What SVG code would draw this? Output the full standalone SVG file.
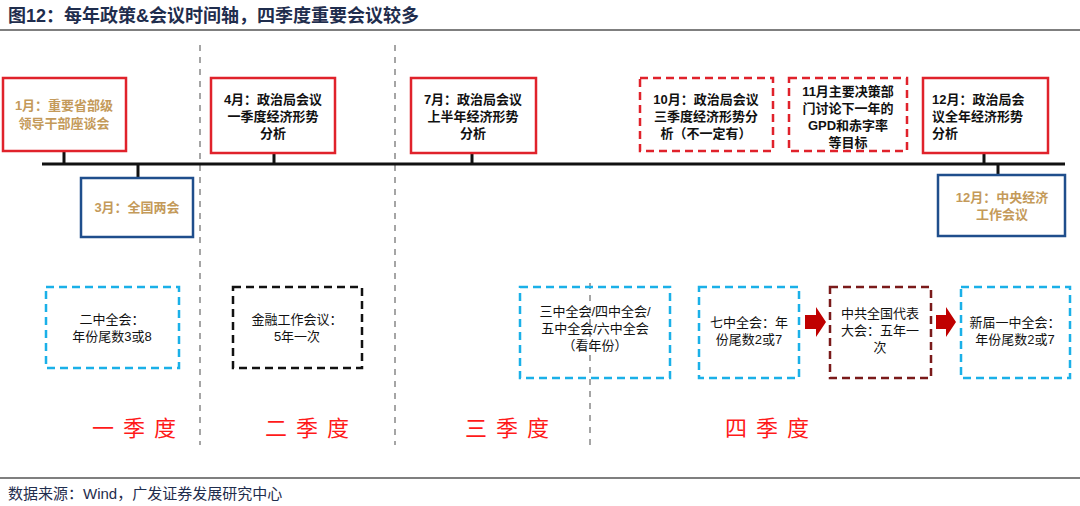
<svg xmlns="http://www.w3.org/2000/svg" width="1080" height="506" viewBox="0 0 1080 506">
<style>
text{font-family:"Liberation Sans","Noto Sans CJK SC",sans-serif;font-size:13px;font-weight:bold;fill:#111}
.g{fill:#c49a5a}
.r{fill:none;stroke:#e0222b;stroke-width:2.5}
.rd{fill:none;stroke:#e0222b;stroke-width:2.5;stroke-dasharray:8,5}
.b{fill:none;stroke:#1f4e8c;stroke-width:2.5}
.c{fill:none;stroke:#1ab0e8;stroke-width:2.5;stroke-dasharray:8,5}
.k{fill:none;stroke:#111;stroke-width:2.5;stroke-dasharray:8,5}
.m{fill:none;stroke:#7a1a1a;stroke-width:2.5;stroke-dasharray:8,5}
.q{font-family:"Noto Sans CJK SC",serif;font-weight:normal;font-size:22px;fill:#ff1a1a;letter-spacing:9px}
.sep{stroke:#888;stroke-width:1.5;stroke-dasharray:6,6}
</style>
<rect width="1080" height="506" fill="#fff"/>
<text x="8" y="22" style="font-size:18px;fill:#1f2d4d">图12：每年政策&amp;会议时间轴，四季度重要会议较多</text>
<line x1="0" y1="30" x2="1080" y2="30" stroke="#555" stroke-width="1.5"/>
<line x1="0" y1="478" x2="1080" y2="478" stroke="#555" stroke-width="1.5"/>
<text x="8" y="499" style="font-weight:normal;font-size:15px;fill:#1f2d4d">数据来源：Wind，广发证券发展研究中心</text>
<g id="separators">
<line class="sep" x1="200" y1="45" x2="200" y2="445"/>
<line class="sep" x1="395" y1="45" x2="395" y2="445"/>
<line class="sep" x1="590" y1="283" x2="590" y2="445"/>
</g>
<g id="connectors" stroke="#111" stroke-width="3">
<line x1="42" y1="164" x2="1065" y2="164"/>
<line x1="64" y1="151" x2="64" y2="164"/>
<line x1="138" y1="164" x2="138" y2="178"/>
<line x1="274" y1="153" x2="274" y2="164"/>
<line x1="472" y1="153" x2="472" y2="164"/>
<line x1="984" y1="153" x2="984" y2="164"/>
<line x1="998" y1="164" x2="998" y2="175"/>
<path d="M805 315h11v-8l10 15-10 15v-8h-11z" fill="#c00000" stroke="none"/>
<path d="M936 315h10v-8l10 15-10 15v-8h-10z" fill="#c00000" stroke="none"/>
</g>
<g id="n1"><rect class="r" x="3" y="78" width="123" height="73"/><text class="g" x="64" y="110" text-anchor="middle">1月：重要省部级</text><text class="g" x="64" y="128" text-anchor="middle">领导干部座谈会</text></g>
<g id="n3"><rect class="b" x="81" y="178" width="112" height="59"/><text class="g" x="137" y="212" text-anchor="middle">3月：全国两会</text></g>
<g id="n4"><rect class="r" x="211" y="78" width="124" height="75"/><text x="273" y="104" text-anchor="middle">4月：政治局会议</text><text x="273" y="121" text-anchor="middle">一季度经济形势</text><text x="273" y="138" text-anchor="middle">分析</text></g>
<g id="n7"><rect class="r" x="411" y="78" width="125" height="75"/><text x="473" y="104" text-anchor="middle">7月：政治局会议</text><text x="473" y="121" text-anchor="middle">上半年经济形势</text><text x="473" y="138" text-anchor="middle">分析</text></g>
<g id="n10"><rect class="rd" x="640" y="78" width="133" height="73"/><text x="706" y="104" text-anchor="middle">10月：政治局会议</text><text x="706" y="121" text-anchor="middle">三季度经济形势分</text><text x="706" y="138" text-anchor="middle">析（不一定有）</text></g>
<g id="n11"><rect class="rd" x="789" y="78" width="118" height="73"/><text x="848" y="96" text-anchor="middle">11月主要决策部</text><text x="848" y="113" text-anchor="middle">门讨论下一年的</text><text x="848" y="130" text-anchor="middle">GPD和赤字率</text><text x="848" y="147" text-anchor="middle">等目标</text></g>
<g id="n12a"><rect class="r" x="923" y="78" width="125" height="75"/><text x="932" y="104">12月：政治局会</text><text x="932" y="121">议全年经济形势</text><text x="932" y="138">分析</text></g>
<g id="n12b"><rect class="b" x="938" y="175" width="127" height="61"/><text class="g" x="1002" y="202" text-anchor="middle">12月：中央经济</text><text class="g" x="1002" y="219" text-anchor="middle">工作会议</text></g>
<g id="b1"><rect class="c" x="46" y="287" width="133" height="81"/><text x="112" y="324" text-anchor="middle" style="font-weight:normal">二中全会：</text><text x="112" y="341" text-anchor="middle" style="font-weight:normal">年份尾数3或8</text></g>
<g id="b2"><rect class="k" x="233" y="287" width="129" height="81"/><text x="297" y="324" text-anchor="middle" style="font-weight:normal">金融工作会议：</text><text x="297" y="341" text-anchor="middle" style="font-weight:normal">5年一次</text></g>
<g id="b3"><rect class="c" x="520" y="287" width="150" height="91"/><text x="595" y="316" text-anchor="middle" style="font-weight:normal">三中全会/四中全会/</text><text x="595" y="333" text-anchor="middle" style="font-weight:normal">五中全会/六中全会</text><text x="595" y="350" text-anchor="middle" style="font-weight:normal">（看年份）</text></g>
<g id="b4"><rect class="c" x="699" y="287" width="100" height="91"/><text x="749" y="327" text-anchor="middle" style="font-weight:normal">七中全会：年</text><text x="749" y="344" text-anchor="middle" style="font-weight:normal">份尾数2或7</text></g>
<g id="b5"><rect class="m" x="830" y="287" width="101" height="91"/><text x="880" y="318" text-anchor="middle" style="font-weight:normal">中共全国代表</text><text x="880" y="335" text-anchor="middle" style="font-weight:normal">大会：五年一</text><text x="880" y="352" text-anchor="middle" style="font-weight:normal">次</text></g>
<g id="b6"><rect class="c" x="961" y="287" width="109" height="91"/><text x="1015" y="327" text-anchor="middle" style="font-weight:normal">新届一中全会：</text><text x="1015" y="344" text-anchor="middle" style="font-weight:normal">年份尾数2或7</text></g>
<g id="quarters">
<text class="q" x="92" y="436">一季度</text>
<text class="q" x="265" y="436">二季度</text>
<text class="q" x="465" y="436">三季度</text>
<text class="q" x="725" y="436">四季度</text>
</g>
</svg>
